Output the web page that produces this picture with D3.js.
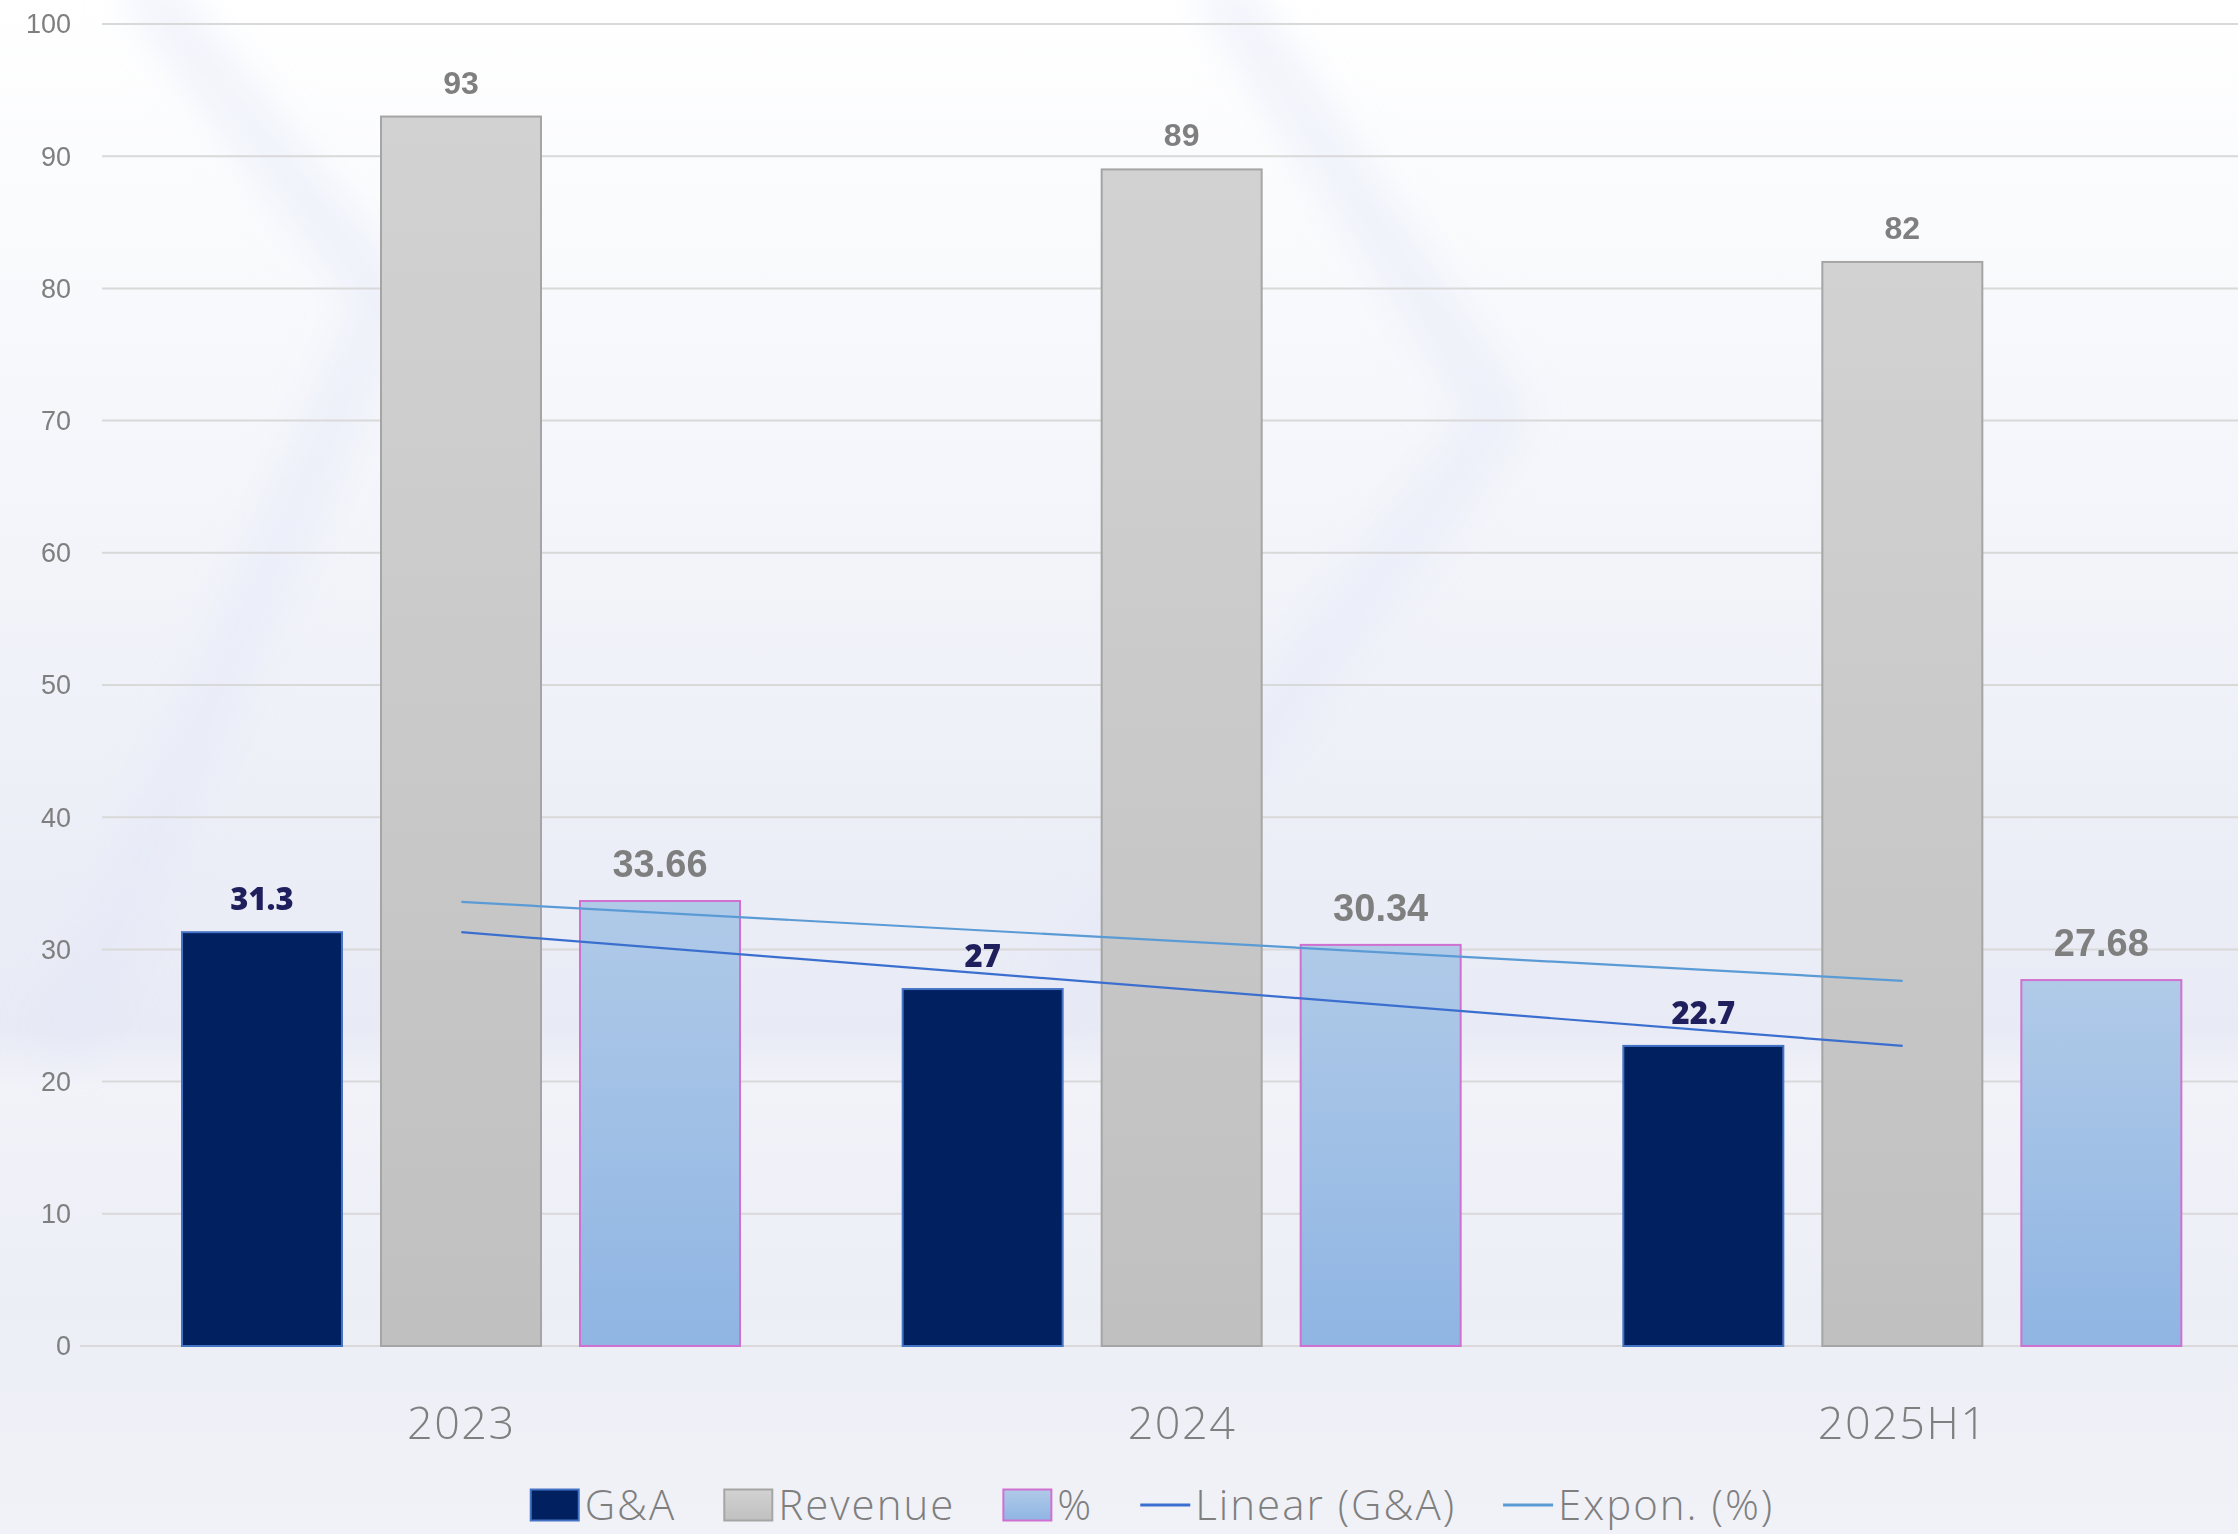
<!DOCTYPE html>
<html>
<head>
<meta charset="utf-8">
<script src="https://cdn.jsdelivr.net/npm/d3@7"></script>
<style>
  html, body { margin: 0; padding: 0; background: #f4f5fa; }
  svg { display: block; }
</style>
</head>
<body>
<div id="chart"></div>
<script>
// Chart data
const categories = ["2023", "2024", "2025H1"];
const seriesNames = ["G&A", "Revenue", "%"];
const gaValues = [31.3, 27, 22.7];
const revenueValues = [93, 89, 82];
const pctValues = [33.66, 30.34, 27.68];
const yTicks = [0, 10, 20, 30, 40, 50, 60, 70, 80, 90, 100];
const legendLabels = ["G&A", "Revenue", "%", "Linear (G&A)", "Expon. (%)"];

const W = 2238;
const H = 1534;

const svg = d3.select("#chart").append("svg")
  .attr("width", W).attr("height", H);

const defs = svg.append("defs");

// Background gradient
const bg = defs.append("linearGradient").attr("id", "bg")
  .attr("x1", 0).attr("y1", 0).attr("x2", 0).attr("y2", 1);
bg.append("stop").attr("offset", "0").attr("stop-color", "#ffffff");
bg.append("stop").attr("offset", "0.2").attr("stop-color", "#f8f9fc");
bg.append("stop").attr("offset", "0.5").attr("stop-color", "#eef0f8");
bg.append("stop").attr("offset", "0.67").attr("stop-color", "#e8eaf5");
bg.append("stop").attr("offset", "0.71").attr("stop-color", "#f2f3f9");
bg.append("stop").attr("offset", "0.85").attr("stop-color", "#eceef6");
bg.append("stop").attr("offset", "1").attr("stop-color", "#f1f2f7");

const revGrad = defs.append("linearGradient").attr("id", "revGrad")
  .attr("x1", 0).attr("y1", 0).attr("x2", 0).attr("y2", 1);
revGrad.append("stop").attr("offset", "0").attr("stop-color", "#d2d2d2");
revGrad.append("stop").attr("offset", "1").attr("stop-color", "#c0c0c0");

const pctGrad = defs.append("linearGradient").attr("id", "pctGrad")
  .attr("x1", 0).attr("y1", 0).attr("x2", 0).attr("y2", 1);
pctGrad.append("stop").attr("offset", "0").attr("stop-color", "#b0cae8");
pctGrad.append("stop").attr("offset", "1").attr("stop-color", "#8fb5e3");

defs.append("filter").attr("id", "blur")
  .attr("x", "-20%").attr("y", "-20%").attr("width", "140%").attr("height", "140%")
  .append("feGaussianBlur").attr("stdDeviation", 22);

svg.append("rect").attr("width", W).attr("height", H).attr("fill", "url(#bg)");

// soft chevrons in the background
const chevrons = [
  [[140, -20], [385, 300], [60, 1050]],
  [[1215, -20], [1500, 415], [1060, 1000]]
];
svg.append("g").attr("filter", "url(#blur)")
  .selectAll("path").data(chevrons).enter().append("path")
  .attr("d", (d) => d3.line()(d))
  .attr("fill", "none")
  .attr("stroke", "#e3e7f8")
  .attr("stroke-width", 40)
  .attr("opacity", 0.6);

// Scales
const x0 = d3.scaleBand().domain(categories).range([101, 2263]).padding(0);
const x1 = d3.scaleBand().domain(seriesNames)
  .range([81, 639]).paddingInner(0.196).paddingOuter(0);
const y = d3.scaleLinear().domain([0, 100]).range([1346, 24]);

// Gridlines
svg.append("g").selectAll("line").data(yTicks).enter().append("line")
  .attr("x1", (d) => (d === 0 ? 80 : 102))
  .attr("x2", W)
  .attr("y1", (d) => y(d)).attr("y2", (d) => y(d))
  .attr("stroke", "#d9d9d9")
  .attr("stroke-width", 2);

// Y axis labels
svg.append("g").selectAll("text").data(yTicks).enter().append("text")
  .attr("x", 71)
  .attr("y", (d) => y(d))
  .attr("dy", "0.35em")
  .attr("text-anchor", "end")
  .attr("font-family", "'Liberation Sans Narrow', 'Liberation Sans', Arial, sans-serif")
  .attr("font-size", 27)
  .attr("fill", "#7f7f7f")
  .text((d) => d);

// X axis labels
svg.append("g").selectAll("text").data(categories).enter().append("text")
  .attr("x", (d) => x0(d) + x0.bandwidth() / 2)
  .attr("y", 1439)
  .attr("text-anchor", "middle")
  .attr("font-family", "'Open Sans', sans-serif")
  .attr("font-weight", 300)
  .attr("font-size", 45)
  .attr("letter-spacing", 1.5)
  .attr("fill", "#7f7f7f")
  .text((d) => d);

// Bars
const series = [
  { name: "G&A", values: gaValues, fill: "#002060", stroke: "#4472c4" },
  { name: "Revenue", values: revenueValues, fill: "url(#revGrad)", stroke: "#a5a5a5" },
  { name: "%", values: pctValues, fill: "url(#pctGrad)", stroke: "#d070d0" }
];

const bars = [];
series.forEach((s) => {
  s.values.forEach((v, i) => bars.push({ series: s, cat: categories[i], value: v }));
});

svg.append("g").selectAll("rect").data(bars).enter().append("rect")
  .attr("x", (d) => x0(d.cat) + x1(d.series.name))
  .attr("y", (d) => y(d.value))
  .attr("width", x1.bandwidth())
  .attr("height", (d) => y(0) - y(d.value))
  .attr("fill", (d) => d.series.fill)
  .attr("stroke", (d) => d.series.stroke)
  .attr("stroke-width", 2);

// Trendlines (least squares over category index)
function linFit(vals) {
  const xs = vals.map((v, i) => i + 1);
  const mx = d3.mean(xs), my = d3.mean(vals);
  const b = d3.sum(xs, (x, i) => (x - mx) * (vals[i] - my)) / d3.sum(xs, (x) => (x - mx) * (x - mx));
  return (x) => my + b * (x - mx);
}
const gaFit = linFit(gaValues);
const pctLogFit = linFit(pctValues.map(Math.log));
const cx = (i) => x0(categories[i]) + x0.bandwidth() / 2;
const last = categories.length - 1;

const trends = [
  { pts: [[cx(0), y(gaFit(1))], [cx(last), y(gaFit(last + 1))]], color: "#3b6fcf" },
  { pts: [[cx(0), y(Math.exp(pctLogFit(1)))], [cx(last), y(Math.exp(pctLogFit(last + 1)))]], color: "#5b9bd5" }
];
svg.append("g").selectAll("path").data(trends).enter().append("path")
  .attr("d", (d) => d3.line()(d.pts))
  .attr("fill", "none")
  .attr("stroke", (d) => d.color)
  .attr("stroke-width", 2.2);

// Data labels
const labelStyle = {
  "G&A": { fill: "#1f1f5e", size: 31, family: "'Open Sans', sans-serif", weight: 800, gap: 22 },
  "Revenue": { fill: "#7f7f7f", size: 32, family: "'Liberation Sans', Arial, sans-serif", weight: 700, gap: 23 },
  "%": { fill: "#7f7f7f", size: 38, family: "'Liberation Sans', Arial, sans-serif", weight: 700, gap: 24 }
};
svg.append("g").selectAll("text").data(bars).enter().append("text")
  .attr("x", (d) => x0(d.cat) + x1(d.series.name) + x1.bandwidth() / 2)
  .attr("y", (d) => y(d.value) - labelStyle[d.series.name].gap)
  .attr("text-anchor", "middle")
  .attr("font-family", (d) => labelStyle[d.series.name].family)
  .attr("font-weight", (d) => labelStyle[d.series.name].weight)
  .attr("font-size", (d) => labelStyle[d.series.name].size)
  .attr("fill", (d) => labelStyle[d.series.name].fill)
  .text((d) => d.value);

// Legend
const legendItems = [
  { label: legendLabels[0], type: "rect", fill: "#002060", stroke: "#4472c4" },
  { label: legendLabels[1], type: "rect", fill: "url(#revGrad)", stroke: "#a5a5a5" },
  { label: legendLabels[2], type: "rect", fill: "url(#pctGrad)", stroke: "#d070d0" },
  { label: legendLabels[3], type: "line", stroke: "#3b6fcf" },
  { label: legendLabels[4], type: "line", stroke: "#5b9bd5" }
];
const LEG_Y = 1505;
const SW = 50;
const SH = 31;
const legend = svg.append("g");
let cursor = 0;
legendItems.forEach((item) => {
  const g = legend.append("g").attr("transform", "translate(" + cursor + ",0)");
  if (item.type === "rect") {
    g.append("rect")
      .attr("x", 1).attr("y", LEG_Y - SH / 2)
      .attr("width", SW - 2).attr("height", SH)
      .attr("fill", item.fill).attr("stroke", item.stroke).attr("stroke-width", 2);
  } else {
    g.append("line")
      .attr("x1", 0).attr("x2", SW)
      .attr("y1", LEG_Y).attr("y2", LEG_Y)
      .attr("stroke", item.stroke).attr("stroke-width", 3);
  }
  const t = g.append("text")
    .attr("x", SW + 5)
    .attr("y", LEG_Y)
    .attr("dy", "0.36em")
    .attr("font-family", "'Open Sans', sans-serif")
    .attr("font-weight", 300)
    .attr("font-size", 42)
    .attr("letter-spacing", 2)
    .attr("fill", "#7f7f7f")
    .text(item.label);
  cursor += SW + 5 + t.node().getComputedTextLength() + 47;
});
const legendWidth = cursor - 47;
legend.attr("transform", "translate(" + (1152 - legendWidth / 2) + ",0)");
</script>
</body>
</html>
